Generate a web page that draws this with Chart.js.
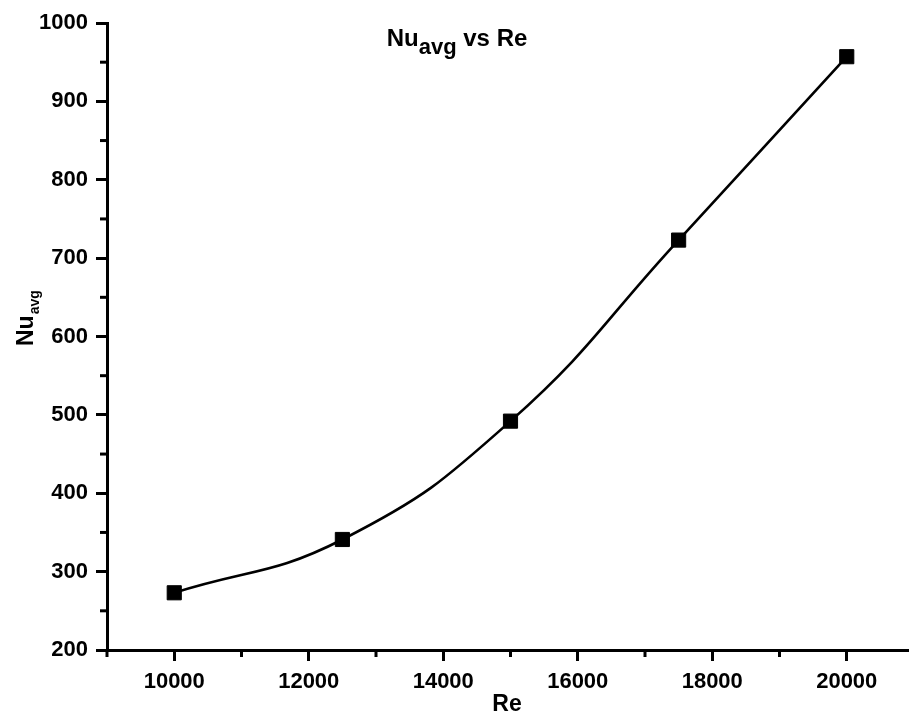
<!DOCTYPE html>
<html>
<head>
<meta charset="utf-8">
<title>Nu avg vs Re</title>
<script src="https://cdn.jsdelivr.net/npm/chart.js@4.4.0/dist/chart.umd.min.js"></script>
<style>
html, body { margin: 0; padding: 0; background: #fff; overflow: hidden; }
#wrap { width: 925px; height: 715px; }
</style>
</head>
<body>
<div id="wrap"><canvas id="nuChart" width="925" height="715"></canvas></div>
<script>
// Data
const reynolds = [10000, 12500, 15000, 17500, 20000];
const nuAvg = [273, 341, 492, 723, 957];

const xTickLabels = [10000, 12000, 14000, 16000, 18000, 20000];
const yTickLabels = [200, 300, 400, 500, 600, 700, 800, 900, 1000];
const xMinorTicks = [9000, 11000, 13000, 15000, 17000, 19000, 21000];
const yMinorTicks = [250, 350, 450, 550, 650, 750, 850, 950];

const FONT = '"Liberation Sans", Arial, sans-serif';

// titles (with subscripts) and minor ticks
const extrasPlugin = {
    id: 'extras',
    afterDraw(chart) {
        const ctx = chart.ctx;
        const xs = chart.scales.x;
        const ys = chart.scales.y;
        ctx.save();

        ctx.strokeStyle = '#000';
        ctx.lineWidth = 3;
        xMinorTicks.forEach(v => {
            const px = xs.getPixelForValue(v);
            ctx.beginPath();
            ctx.moveTo(px, xs.top);
            ctx.lineTo(px, xs.top + 7);
            ctx.stroke();
        });
        yMinorTicks.forEach(v => {
            const py = ys.getPixelForValue(v);
            ctx.beginPath();
            ctx.moveTo(ys.right, py);
            ctx.lineTo(ys.right - 7, py);
            ctx.stroke();
        });

        ctx.fillStyle = '#000';
        ctx.textBaseline = 'alphabetic';
        ctx.textAlign = 'left';

        // chart title: Nu_avg vs Re
        ctx.font = 'bold 24px ' + FONT;
        const wNu = ctx.measureText('Nu').width;
        ctx.font = 'bold 22px ' + FONT;
        const wAvg = ctx.measureText('avg').width;
        ctx.font = 'bold 24px ' + FONT;
        const wRest = ctx.measureText(' vs Re').width;
        let tx = 457 - (wNu + wAvg + wRest) / 2;
        const ty = 46;
        ctx.fillText('Nu', tx, ty);
        ctx.font = 'bold 22px ' + FONT;
        ctx.fillText('avg', tx + wNu, ty + 8);
        ctx.font = 'bold 24px ' + FONT;
        ctx.fillText(' vs Re', tx + wNu + wAvg, ty);

        // x axis title
        ctx.textAlign = 'center';
        ctx.font = 'bold 23px ' + FONT;
        ctx.fillText('Re', 507, 711);

        // y axis title, rotated
        ctx.translate(33, 346);
        ctx.rotate(-Math.PI / 2);
        ctx.textAlign = 'left';
        ctx.font = 'bold 23px ' + FONT;
        const wNuY = ctx.measureText('Nu').width;
        ctx.fillText('Nu', 0, 0);
        ctx.font = 'bold 14px ' + FONT;
        ctx.fillText('avg', wNuY + 1, 6);

        ctx.restore();
    }
};

const ctx = document.getElementById('nuChart').getContext('2d');
new Chart(ctx, {
    type: 'line',
    data: {
        datasets: [{
            data: reynolds.map((re, i) => ({ x: re, y: nuAvg[i] })),
            borderColor: '#000',
            borderWidth: 2.6,
            tension: 0.45,
            pointStyle: 'rect',
            pointRadius: 10,
            pointBackgroundColor: '#000',
            pointBorderColor: '#000',
            pointBorderWidth: 1
        }]
    },
    options: {
        responsive: false,
        animation: false,
        devicePixelRatio: 1,
        layout: { padding: { top: 23, right: 0, left: 0, bottom: 0 } },
        plugins: {
            legend: { display: false },
            tooltip: { enabled: false },
            title: { display: false }
        },
        scales: {
            x: {
                type: 'linear',
                min: 9000,
                max: 21000,
                afterBuildTicks: s => { s.ticks = xTickLabels.map(v => ({ value: v })); },
                afterFit: s => { s.height = 65; },
                border: { color: '#000', width: 3 },
                grid: { drawOnChartArea: false, tickLength: 11, tickWidth: 3, tickColor: '#000' },
                ticks: {
                    color: '#000',
                    font: { family: FONT, size: 22, weight: 'bold' },
                    padding: 8,
                    maxRotation: 0,
                    autoSkip: false,
                    callback: v => String(v)
                }
            },
            y: {
                min: 200,
                max: 1000,
                afterBuildTicks: s => { s.ticks = yTickLabels.map(v => ({ value: v })); },
                afterFit: s => { s.width = 107; },
                border: { color: '#000', width: 3 },
                grid: { drawOnChartArea: false, tickLength: 11, tickWidth: 3, tickColor: '#000' },
                ticks: {
                    color: '#000',
                    font: { family: FONT, size: 22, weight: 'bold' },
                    padding: 8,
                    autoSkip: false,
                    callback: v => String(v)
                }
            }
        }
    },
    plugins: [extrasPlugin]
});
</script>
</body>
</html>
